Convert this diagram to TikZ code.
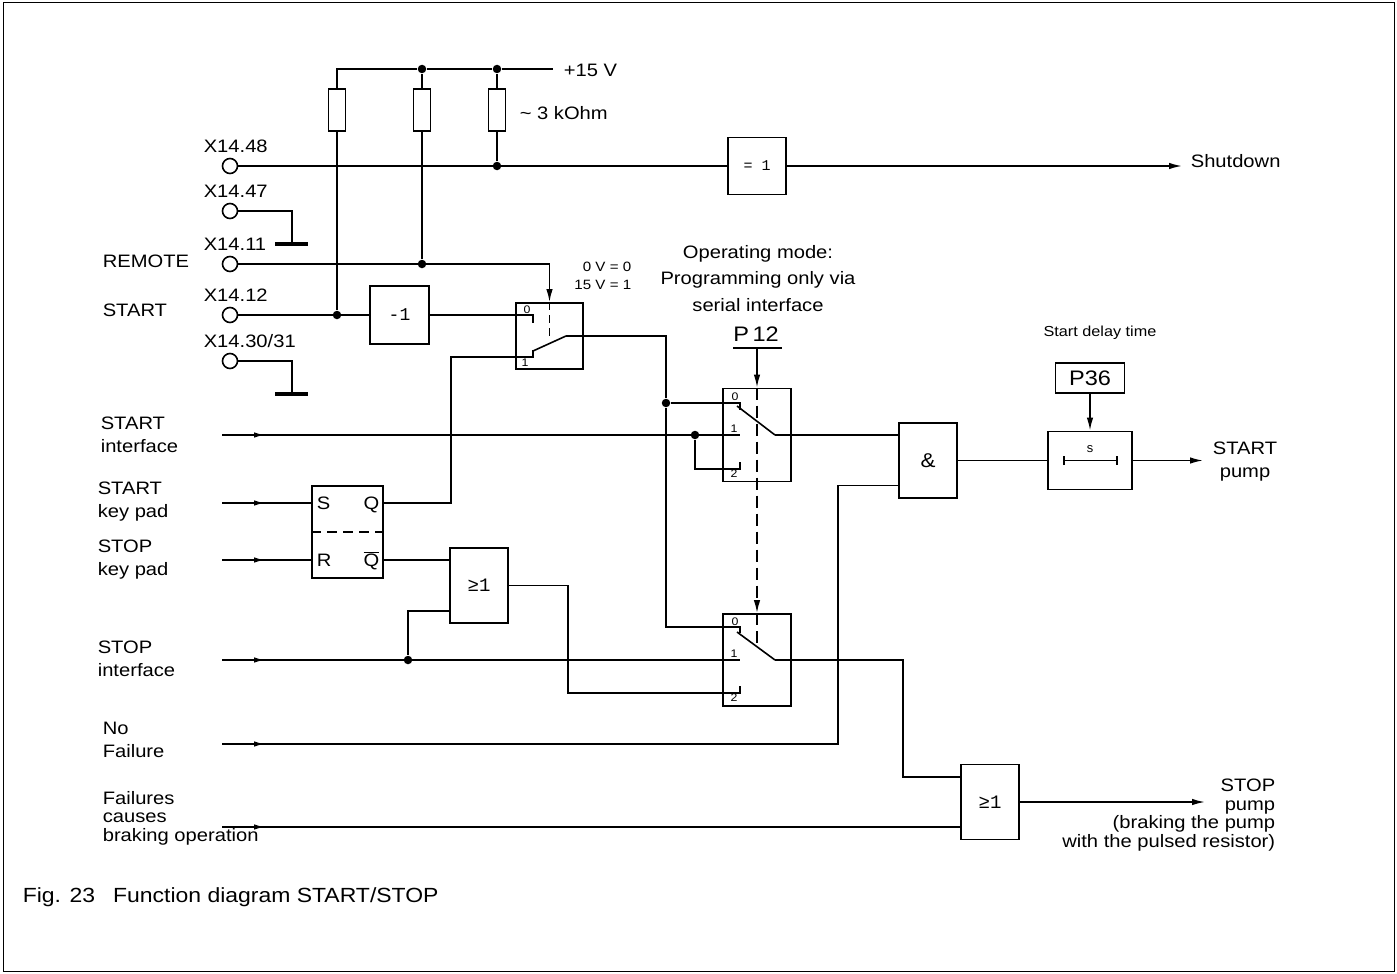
\documentclass[tikz,border=0pt]{standalone}
\usepackage{fontspec}
\setmainfont{Liberation Sans}[FakeStretch=1.12]
\newfontfamily\gatefont{Liberation Mono}
\usetikzlibrary{arrows.meta,decorations.markings,positioning}
\tikzset{
  >={Latex[length=13pt,width=6.5pt]},
  lbl/.style={inner sep=0pt, font=\fontsize{18}{23}\selectfont},
  note/.style={inner sep=0pt, font=\fontsize{13.5}{18}\selectfont},
  pinlbl/.style={inner sep=0pt, font=\fontsize{11}{12}\selectfont},
  gate/.style={draw, line width=1.8pt, inner sep=0pt, minimum width=58pt, minimum height=75pt},
  swbox/.style={draw, line width=1.8pt, inner sep=0pt, minimum width=68pt, minimum height=92pt},
  resistor/.style={draw, line width=1.8pt, inner sep=0pt, minimum width=17pt, minimum height=42pt},
  term/.style={circle, draw, minimum size=15pt, inner sep=0pt},
  junction/.style={circle, fill, minimum size=8.5pt, inner sep=0pt},
  gnd/.style={line width=3.5pt},
  feed/.style={postaction={decorate}, decoration={markings,
      mark=at position 43pt with {\arrow{Latex[length=11pt,width=5.5pt]}}}},
  linkage/.style={dash pattern=on 12pt off 6pt},
}

\begin{document}
\begin{tikzpicture}[x=1pt,y=-1pt,line width=1.6pt]
\useasboundingbox (0,0) rectangle (1397,974);
\draw[line width=1pt] (3,3) rectangle (1394,971);

\foreach \n/\y/\t in {48/166/X14.48,47/211/X14.47,11/264/X14.11,12/315/X14.12,30/361/{X14.30/31}}{
  \node[term] (t\n) at (230,\y) {};
  \node[lbl, anchor=west] at (203,\y-20) {\t};
}
\node[lbl, anchor=west] at (102,261) {REMOTE};
\node[lbl, anchor=west] at (102,310) {START};

\node[resistor] (r1) at (337,110) {};
\node[resistor] (r2) at (422,110) {};
\node[resistor] (r3) at (497,110) {};
\node[junction] (d1) at (422,69) {};
\node[junction] (d2) at (497,69) {};
\node[junction] (d3) at (497,166) {};
\node[junction] (d4) at (422,264) {};
\node[junction] (d5) at (337,315) {};
\coordinate (v15) at (553,69);
\node[lbl, anchor=west] at (563,70) {+15 V};
\node[lbl, anchor=west] at (519,113) {\textasciitilde\ 3 kOhm};
\draw (r1.north) |- (d1) -- (d2) -- (v15);
\draw (d1) -- (r2.north) (d2) -- (r3.north);
\draw (r3.south) -- (d3) (r2.south) -- (d4) (r1.south) -- (d5);

\node[gate, minimum height=57pt] (xor) at (757,166) {\gatefont\fontsize{15}{15}\selectfont = 1};
\coordinate (shut) at (1182,166);
\draw (t48) -- (xor);
\draw[->] (xor) -- (shut);
\node[lbl, anchor=west] at (1190,161) {Shutdown};

\coordinate (g47) at (292,244);
\coordinate (g30) at (292,394);
\draw (t47) -| (g47);
\draw (t30) -| (g30);
\draw[gnd] ([xshift=-17pt]g47) -- ([xshift=16pt]g47);
\draw[gnd] ([xshift=-17pt]g30) -- ([xshift=16pt]g30);

\node[gate, minimum width=59pt, minimum height=58pt] (inv) at (399.5,315) {\gatefont\fontsize{18}{18}\selectfont -1};
\draw (t12) -- (inv);

\node[swbox, minimum width=67pt, minimum height=66pt] (sw1) at (549.5,336) {};
\coordinate (c10) at (533,315);
\coordinate (c11) at (533,357);
\coordinate (p1) at (566,336);
\node[pinlbl] at (527,310) {0};
\node[pinlbl] at (525,363) {1};
\draw (inv) -- (c10) -- ++(0,8);
\draw[->] (t11) -| (sw1.north);
\draw[dash pattern=on 8pt off 5pt] (sw1.north) -- ++(0,36);
\draw (c11) ++(0,-6) -- (p1);
\node[note, align=right, anchor=east] at (632,276) {0 V = 0\\15 V = 1};

\node[swbox, minimum width=71pt] (ff) at (347.5,532) {};
\draw[dash pattern=on 10pt off 6pt] (ff.west) -- (ff.east);
\node[lbl, anchor=base west] at (316,509.5) {S};
\node[lbl, anchor=base west] at (316,566.5) {R};
\node[lbl, anchor=base east] at (380,509.5) {Q};
\node[lbl, anchor=base east] at (380,566.5) {$\overline{\mbox{Q}}$};

\coordinate (inSI) at (222,435);
\coordinate (inSK) at (222,503);
\coordinate (inPK) at (222,560);
\coordinate (inPI) at (222,660);
\coordinate (inNF) at (222,744);
\coordinate (inFC) at (222,827);
\node[lbl, align=left, anchor=west] at (100,435) {START\\interface};
\node[lbl, align=left, anchor=west] at (97,502) {START\\key pad};
\node[lbl, align=left, anchor=west] at (97,560) {STOP\\key pad};
\node[lbl, align=left, anchor=west] at (97,659) {STOP\\interface};
\node[lbl, align=left, anchor=west] at (102,740) {No\\Failure};
\node[lbl, align=left, anchor=west, font=\fontsize{18}{18.5}\selectfont] at (102,818) {Failures\\causes\\braking operation};

\node[swbox, minimum height=93pt] (sw2) at (757,435) {};
\coordinate (c20) at (740,403);
\coordinate (c21) at (740,435);
\coordinate (c22) at (740,469);
\coordinate (p2) at (775,435);
\node[junction] (d6) at (666,403) {};
\node[junction] (d7) at (695,435) {};
\node[pinlbl] at (735,397) {0};
\node[pinlbl] at (734,429) {1};
\node[pinlbl] at (734,474) {2};

\node[swbox] (sw3) at (757,660) {};
\coordinate (c30) at (740,627);
\coordinate (c31) at (740,660);
\coordinate (c32) at (740,693);
\coordinate (p3) at (775,660);
\node[junction] (d8) at (408,660) {};
\node[pinlbl] at (735,622) {0};
\node[pinlbl] at (734,654) {1};
\node[pinlbl] at (734,698) {2};

\draw (p1) -| (d6);
\draw (d6) -- (c20) -- ++(0,7);
\draw (d6) |- (c30) -- ++(0,6);
\draw[feed] (inSI) -- (c21);
\draw (d7) |- (c22) -- ++(0,-7);
\draw (c20) ++(-3,3) -- (p2);
\draw[feed] (inSK) -- (ff.west |- inSK);
\draw[feed] (inPK) -- (ff.west |- inPK);
\draw (ff.east |- inSK) -- ++(67,0) |- (c11) -- ++(0,-7);

\node[gate] (or1) at (479,585.5) {\gatefont\fontsize{19}{19}\selectfont ≥1};
\draw (ff.east |- inPK) -- (or1.west |- inPK);
\draw[feed] (inPI) -- (c31);
\draw (d8) |- ([yshift=-25.5pt]or1.west);
\draw (or1.east) -- ++(59,0) |- (c32) -- ++(0,-7);
\draw (c30) ++(-3,5) -- (p3);

\node[lbl, font=\fontsize{21}{21}\selectfont] at (756,334) {P\,12};
\coordinate (p12) at (757,348);
\draw ([xshift=-24pt]p12) -- ([xshift=25pt]p12);
\draw[->] (p12) -- (sw2.north);
\draw[linkage, ->] (sw2.north) -- (sw3.north);
\draw[linkage] (sw3.north) -- ++(0,31);
\node[lbl, align=center, font=\fontsize{18}{26.5}\selectfont] at (758,278.5) {Operating mode:\\Programming only via\\serial interface};

\node[gate] (and) at (928,460.5) {\fontsize{20}{20}\selectfont\&};
\draw (p2) -- (and.west |- p2);
\draw[feed] (inNF) -- ++(616,0) |- ([yshift=-25pt]and.west);

\node[gate, minimum width=84pt, minimum height=58pt] (tm) at (1090,460.5) {};
\node[inner sep=0pt, font=\gatefont\fontsize{13}{13}\selectfont] at (1090,449) {s};
\draw[{Bar[width=9pt]}-{Bar[width=9pt]}] ([xshift=-27pt]tm.center) -- ([xshift=28pt]tm.center);
\draw (and) -- (tm);
\coordinate (startout) at (1203,460.5);
\draw[->] (tm) -- (startout);
\node[lbl, align=center] at (1245,461.5) {START\\pump};
\node[gate, minimum width=69pt, minimum height=30pt] (p36) at (1090,378) {\fontsize{21}{21}\selectfont P36};
\draw[->] (p36) -- (tm);
\node[lbl, font=\fontsize{14.5}{14.5}\selectfont] at (1100,333) {Start delay time};

\node[gate] (or2) at (990,802) {\gatefont\fontsize{19}{19}\selectfont ≥1};
\draw (p3) -- ++(128,0) |- ([yshift=25pt]or2.west);
\draw[feed] (inFC) -- (or2.west |- inFC);
\coordinate (stopout) at (1205,802);
\draw[->] (or2) -- (stopout);
\node[lbl, align=right, anchor=east, font=\fontsize{18}{18.5}\selectfont] at (1276,815) {STOP\\pump\\(braking the pump\\with the pulsed resistor)};

\node[lbl, anchor=west, font=\fontsize{20.5}{21}\selectfont] at (22,897) {Fig. 23\hspace{18pt}Function diagram START/STOP};
\end{tikzpicture}
\end{document}
